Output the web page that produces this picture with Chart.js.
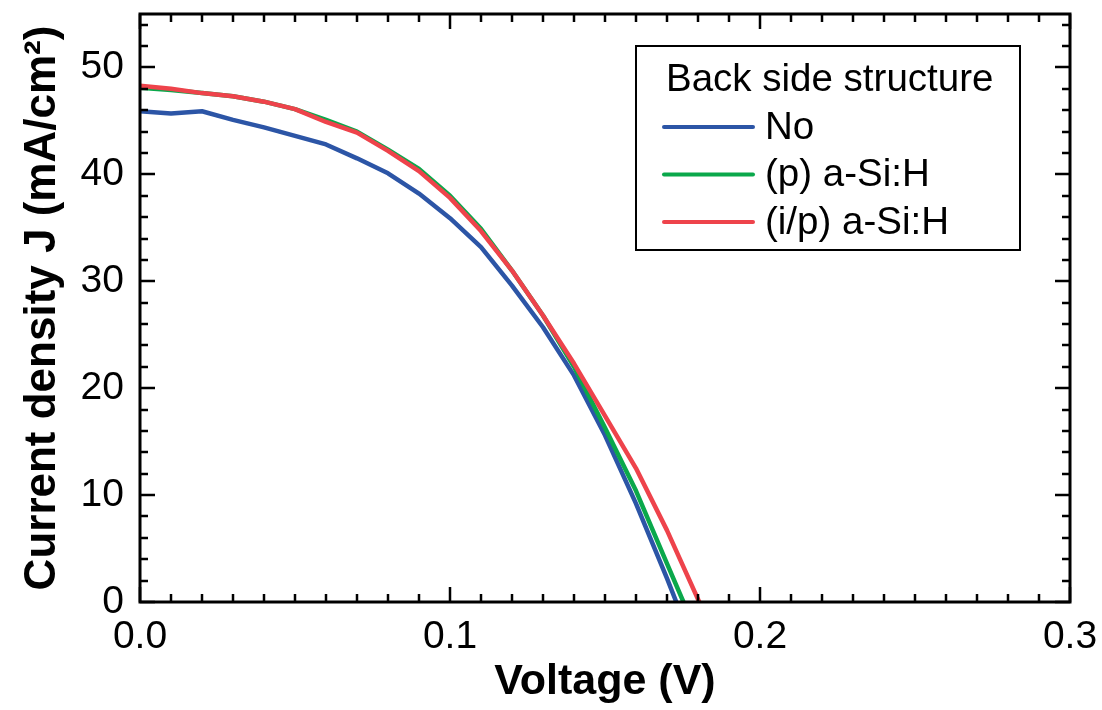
<!DOCTYPE html>
<html>
<head>
<meta charset="utf-8">
<script src="https://cdn.jsdelivr.net/npm/chart.js@4.4.1/dist/chart.umd.min.js"></script>
<style>
  body { margin: 0; background: #fff; }
  #wrap { width: 1102px; height: 710px; }
</style>
</head>
<body>
<div id="wrap"><canvas id="jvChart" width="1102" height="710"></canvas></div>
<script>
// J-V curves
const seriesLabels = ['No', '(p) a-Si:H', '(i/p) a-Si:H'];
const seriesColors = ['#2c55a6', '#0aa84b', '#ee434b'];

const voltageNo = [0, 0.01, 0.02, 0.03, 0.04, 0.05, 0.06, 0.07, 0.08, 0.09, 0.10, 0.11, 0.12, 0.13, 0.14, 0.15, 0.16, 0.17, 0.173];
const currentNo = [45.9, 45.7, 45.9, 45.1, 44.4, 43.6, 42.8, 41.5, 40.1, 38.2, 35.9, 33.2, 29.6, 25.7, 21.2, 15.6, 9.2, 2.2, 0];

const voltageP = [0, 0.01, 0.02, 0.03, 0.04, 0.05, 0.06, 0.07, 0.08, 0.09, 0.10, 0.11, 0.12, 0.13, 0.14, 0.15, 0.16, 0.17, 0.1753];
const currentP = [48.1, 47.9, 47.6, 47.3, 46.8, 46.1, 45.1, 44.0, 42.3, 40.5, 38.0, 34.9, 31.0, 26.8, 22.0, 16.3, 10.4, 3.6, 0];

const voltageIP = [0, 0.01, 0.02, 0.03, 0.04, 0.05, 0.06, 0.07, 0.08, 0.09, 0.10, 0.11, 0.12, 0.13, 0.14, 0.15, 0.16, 0.17, 0.1804];
const currentIP = [48.3, 48.0, 47.6, 47.3, 46.8, 46.1, 44.9, 43.9, 42.2, 40.3, 37.8, 34.7, 31.0, 26.8, 22.3, 17.4, 12.5, 6.7, 0];

const xTicks = [0, 0.1, 0.2, 0.3];
const yTicks = [0, 10, 20, 30, 40, 50];
const legendTitle = 'Back side structure';

const FONT = "'Liberation Sans', Arial, sans-serif";

function toPoints(xs, ys) {
    return xs.map((x, i) => ({ x: x, y: ys[i] }));
}

// scale boxes sized by hand, no extra label padding
function noPad(s) {
    s.paddingTop = 0; s.paddingBottom = 0; s.paddingLeft = 0; s.paddingRight = 0;
}

// frame + inward ticks on all four sides
const frameTicks = {
    id: 'frameTicks',
    afterDraw(chart) {
        const { ctx, chartArea: a, scales } = chart;
        const x = scales.x, y = scales.y;
        ctx.save();
        ctx.strokeStyle = '#000';
        ctx.lineWidth = 2.5;
        ctx.lineCap = 'butt';
        ctx.beginPath();
        for (let i = 0; i <= 30; i++) {
            const px = Math.round(x.getPixelForValue(i / 100));
            const len = i % 10 === 0 ? 15 : 8;
            ctx.moveTo(px, a.bottom); ctx.lineTo(px, a.bottom - len);
            ctx.moveTo(px, a.top); ctx.lineTo(px, a.top + len);
        }
        for (let v = 0; v <= 55; v += 2) {
            const py = Math.round(y.getPixelForValue(v));
            const len = v % 10 === 0 ? 15 : 8;
            ctx.moveTo(a.left, py); ctx.lineTo(a.left + len, py);
            ctx.moveTo(a.right, py); ctx.lineTo(a.right - len, py);
        }
        ctx.stroke();
        ctx.lineWidth = 3;
        ctx.strokeRect(a.left, a.top, a.right - a.left, a.bottom - a.top);
        ctx.restore();
    }
};

// boxed legend with title inside the plot
const boxLegend = {
    id: 'boxLegend',
    afterDraw(chart) {
        const ctx = chart.ctx;
        const box = { left: 636, top: 46, right: 1020, bottom: 250 };
        ctx.save();
        ctx.strokeStyle = '#000';
        ctx.lineWidth = 2;
        ctx.strokeRect(box.left, box.top, box.right - box.left, box.bottom - box.top);
        ctx.fillStyle = '#000';
        ctx.font = '38.5px ' + FONT;
        ctx.textBaseline = 'middle';
        ctx.textAlign = 'left';
        ctx.fillText(legendTitle, 666, 80);
        chart.data.datasets.forEach((ds, i) => {
            const cy = 127 + i * 47.5;
            ctx.strokeStyle = ds.borderColor;
            ctx.lineWidth = 4;
            ctx.lineCap = 'round';
            ctx.beginPath();
            ctx.moveTo(664, cy); ctx.lineTo(753, cy);
            ctx.stroke();
            ctx.fillStyle = '#000';
            ctx.fillText(ds.label, 765, cy + 1);
        });
        ctx.restore();
    }
};

const ctx = document.getElementById('jvChart').getContext('2d');
new Chart(ctx, {
    type: 'scatter',
    data: {
        datasets: [
            { label: seriesLabels[0], data: toPoints(voltageNo, currentNo), borderColor: seriesColors[0], order: 3 },
            { label: seriesLabels[1], data: toPoints(voltageP, currentP), borderColor: seriesColors[1], order: 2 },
            { label: seriesLabels[2], data: toPoints(voltageIP, currentIP), borderColor: seriesColors[2], order: 1 }
        ].map(ds => Object.assign(ds, {
            showLine: true,
            borderWidth: 4.5,
            pointRadius: 0,
            tension: 0,
            fill: false,
            borderJoinStyle: 'round'
        }))
    },
    options: {
        responsive: false,
        animation: false,
        layout: { padding: { top: 14, right: 32, left: 0, bottom: 0 } },
        plugins: {
            legend: { display: false },
            tooltip: { enabled: false }
        },
        scales: {
            x: {
                type: 'linear',
                min: 0,
                max: 0.3,
                grid: { display: false, drawTicks: false },
                border: { display: false },
                afterBuildTicks: s => { s.ticks = xTicks.map(v => ({ value: v })); },
                afterFit: s => { s.height = 108; noPad(s); },
                ticks: {
                    color: '#000',
                    padding: 12,
                    maxRotation: 0,
                    font: { family: FONT, size: 39 },
                    callback: v => v.toFixed(1)
                },
                title: {
                    display: true,
                    text: 'Voltage (V)',
                    color: '#000',
                    padding: { top: 0, bottom: 2 },
                    font: { family: FONT, size: 43, weight: 'bold' }
                }
            },
            y: {
                type: 'linear',
                min: 0,
                max: 55,
                grid: { display: false, drawTicks: false },
                border: { display: false },
                afterBuildTicks: s => { s.ticks = yTicks.map(v => ({ value: v })); },
                afterFit: s => { s.width = 140; noPad(s); },
                ticks: {
                    color: '#000',
                    padding: 16,
                    font: { family: FONT, size: 39 }
                },
                title: {
                    display: true,
                    text: 'Current density J (mA/cm²)',
                    color: '#000',
                    padding: { top: 16, bottom: 0 },
                    font: { family: FONT, size: 44, weight: 'bold' }
                }
            }
        }
    },
    plugins: [frameTicks, boxLegend]
});
</script>
</body>
</html>
